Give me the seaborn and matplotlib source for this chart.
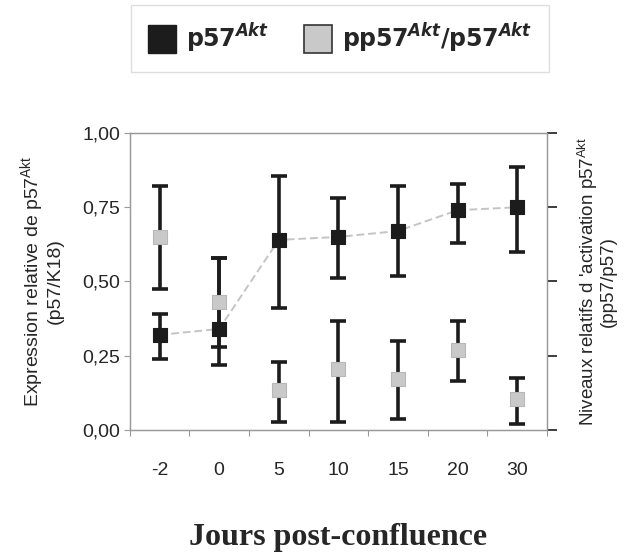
import numpy as np
import pandas as pd
import seaborn as sns
import matplotlib.pyplot as plt
from matplotlib.lines import Line2D

days = ['-2', '0', '5', '10', '15', '20', '30']
p57 = [0.32, 0.34, 0.64, 0.65, 0.67, 0.74, 0.75]
p57_low = [0.24, 0.22, 0.41, 0.51, 0.52, 0.63, 0.60]
p57_high = [0.39, 0.58, 0.855, 0.78, 0.82, 0.83, 0.885]
ratio = [0.65, 0.43, 0.135, 0.205, 0.17, 0.27, 0.105]
ratio_low = [0.475, 0.28, 0.026, 0.026, 0.036, 0.166, 0.02]
ratio_high = [0.82, 0.58, 0.227, 0.368, 0.30, 0.368, 0.176]
yticks = [0.0, 0.25, 0.5, 0.75, 1.0]
ytick_labels = ['0,00', '0,25', '0,50', '0,75', '1,00']

sns.set_style('white')
plt.rcParams['font.family'] = ['Liberation Sans', 'DejaVu Sans']
plt.rcParams['mathtext.fontset'] = 'custom'
plt.rcParams['mathtext.rm'] = 'Liberation Sans'
plt.rcParams['mathtext.it'] = 'DejaVu Sans:italic:bold'

df = pd.DataFrame({'pos': np.arange(len(days)), 'day': days,
                   'p57': p57, 'ratio': ratio})

fig = plt.figure(figsize=(6.33, 5.59), dpi=100)
ax = fig.add_axes([0.205, 0.231, 0.659, 0.531])
ax2 = ax.twinx()

black = '#1c1c1c'
grey = '#c9c9c9'

# p57 series (left axis)
sns.lineplot(data=df, x='pos', y='p57', ax=ax, color='#c4c4c4',
             linestyle=(0, (4, 2)), linewidth=1.4, zorder=1)
ax.errorbar(df['pos'], p57,
            yerr=[np.array(p57) - np.array(p57_low), np.array(p57_high) - np.array(p57)],
            fmt='none', ecolor=black, elinewidth=2.6, capsize=5.5, capthick=2.6, zorder=2)
sns.scatterplot(data=df, x='pos', y='p57', ax=ax, marker='s', s=100,
                color=black, edgecolor=black, linewidth=0.8, zorder=3)

# pp57/p57 ratio (right axis)
ax2.errorbar(df['pos'], ratio,
             yerr=[np.array(ratio) - np.array(ratio_low), np.array(ratio_high) - np.array(ratio)],
             fmt='none', ecolor=black, elinewidth=2.6, capsize=5.5, capthick=2.6, zorder=2)
sns.scatterplot(data=df, x='pos', y='ratio', ax=ax2, marker='s', s=95,
                color=grey, edgecolor='#b8b8b8', linewidth=0.8, zorder=3)

for a in (ax, ax2):
    a.set_xlim(-0.5, len(days) - 0.5)
    a.set_ylim(0, 1)
    for s in a.spines.values():
        s.set_color('#9a9a9a')
        s.set_linewidth(0.9)

ax.set_yticks(yticks)
ax.set_yticklabels(ytick_labels, fontsize=14)
ax.tick_params(axis='y', direction='out', length=4, width=0.8, color='#9a9a9a', pad=3, left=True)
ax2.set_yticks(yticks)
ax2.set_yticklabels([])
ax2.tick_params(axis='y', direction='out', length=7, width=1.2, color=black, right=True)

ax.set_xticks(np.arange(len(days)))
ax.set_xticklabels(days, fontsize=14)
ax.set_xticks(np.arange(len(days) + 1) - 0.5, minor=True)
ax.tick_params(axis='x', which='major', length=0, pad=23)
ax.tick_params(axis='x', which='minor', direction='out', length=4, width=0.8,
               color='#9a9a9a', bottom=True)

ax.set_xlabel('Jours post-confluence', family='Liberation Serif', fontweight='bold',
              fontsize=23, labelpad=32)
ax.set_ylabel('Expression relative de p57$^{\\mathrm{Akt}}$\n(p57/K18)',
              family='Liberation Sans', fontsize=14, linespacing=1.0)
ax.yaxis.set_label_coords(-0.158, 0.5)
ax2.set_ylabel("Niveaux relatifs d 'activation p57$^{\\mathrm{Akt}}$\n(pp57/p57)",
               family='Liberation Sans', fontsize=13.5, linespacing=1.0)
ax2.yaxis.set_label_coords(1.067, 0.5)

handles = [
    Line2D([], [], marker='s', linestyle='none', markersize=20,
           markerfacecolor=black, markeredgecolor=black),
    Line2D([], [], marker='s', linestyle='none', markersize=20,
           markerfacecolor=grey, markeredgecolor='#333333', markeredgewidth=1.2),
]
leg = fig.legend(handles, ['p57$^{\\mathit{Akt}}$', 'pp57$^{\\mathit{Akt}}$/p57$^{\\mathit{Akt}}$'],
                 loc='upper center', bbox_to_anchor=(0.537, 0.991), ncol=2,
                 frameon=True, fancybox=False, edgecolor='#d6d6d6',
                 prop={'family': 'DejaVu Sans', 'weight': 'bold', 'size': 17},
                 handletextpad=0.4, columnspacing=1.5, borderpad=0.7, handlelength=1.2,
                 borderaxespad=0)
leg.get_frame().set_linewidth(1.0)

fig.savefig('out.png', dpi=100)
